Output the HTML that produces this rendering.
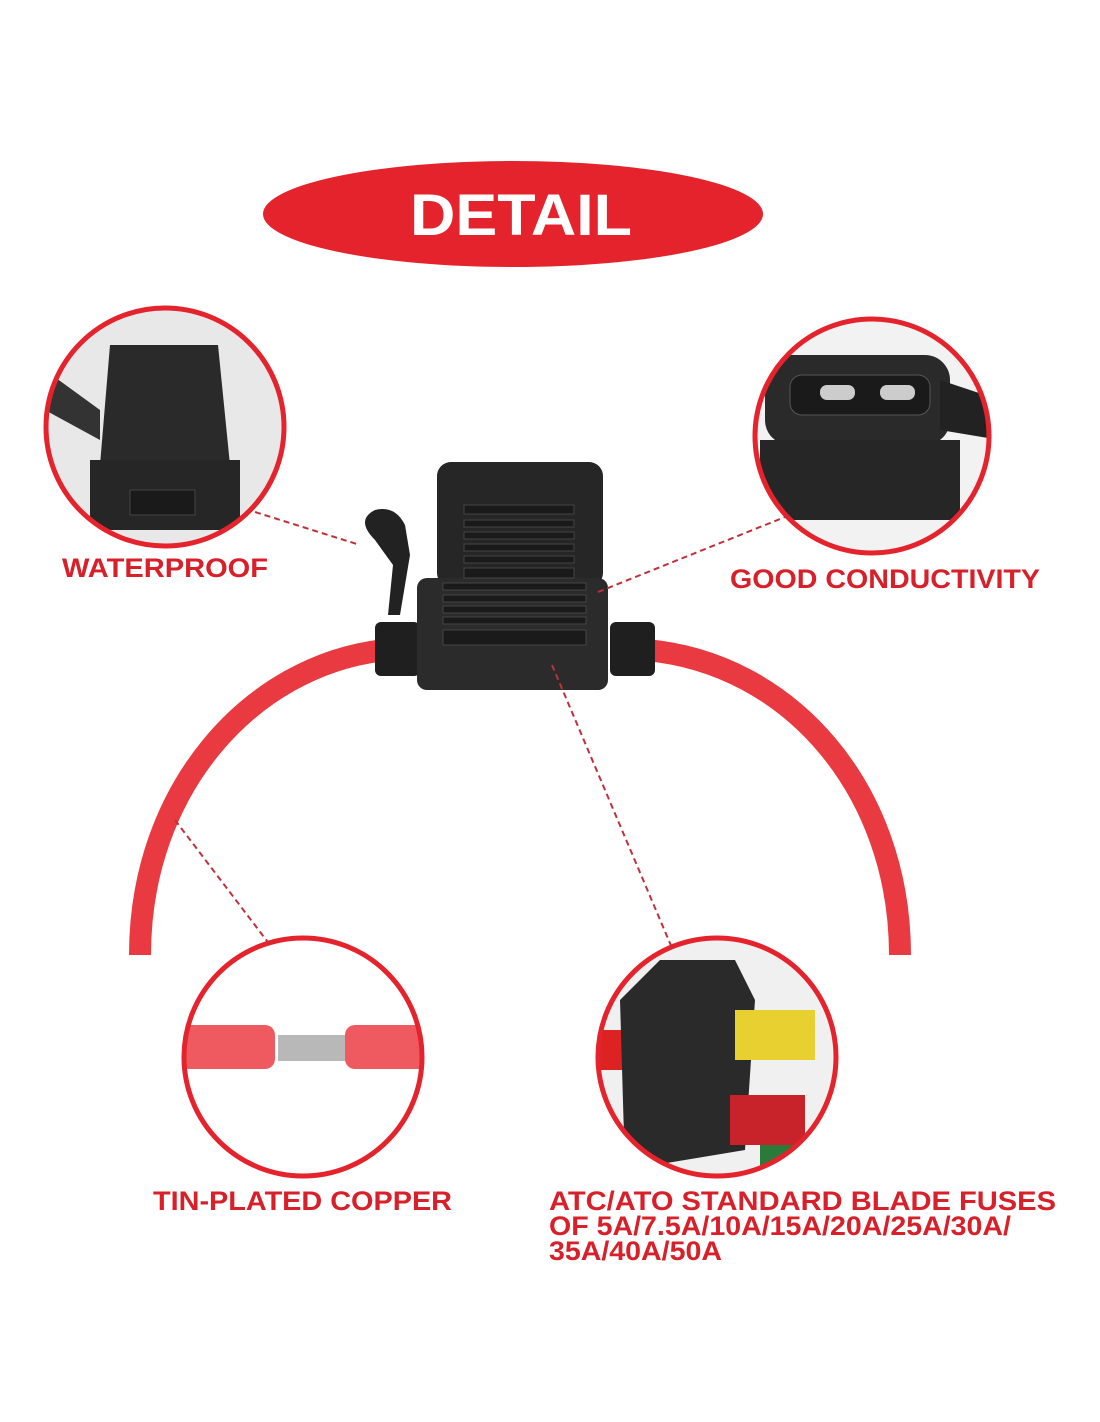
<!DOCTYPE html>
<html><head><style>
html,body{margin:0;padding:0;background:#fff;width:1100px;height:1422px;overflow:hidden}
svg{display:block}
text{font-family:"Liberation Sans",sans-serif;font-weight:bold}
</style></head><body>
<svg width="1100" height="1422" viewBox="0 0 1100 1422">
<defs>
<clipPath id="c1"><circle cx="165" cy="427" r="118"/></clipPath>
<clipPath id="c2"><circle cx="872" cy="436" r="116"/></clipPath>
<clipPath id="c3"><circle cx="303" cy="1057" r="118"/></clipPath>
<clipPath id="c4"><circle cx="717" cy="1057" r="118"/></clipPath>
</defs>
<ellipse cx="513" cy="214" rx="250" ry="53" fill="#e4232c"/>
<text x="410" y="235" font-size="58" fill="#fff" textLength="222" lengthAdjust="spacingAndGlyphs">DETAIL</text>

<!-- wire -->
<path d="M140 955 C140 790 250 665 385 650" fill="none" stroke="#e83a40" stroke-width="22"/>
<path d="M645 650 C790 662 900 790 900 955" fill="none" stroke="#e83a40" stroke-width="22"/>

<!-- fuse holder -->
<path d="M375 540 q-20 -20 0 -30 q20 -5 30 15 l5 30 l-10 60 l-12 0 l5 -50 z" fill="#222"/>
<rect x="375" y="622" width="45" height="54" rx="6" fill="#1f1f1f"/>
<rect x="610" y="622" width="45" height="54" rx="6" fill="#1f1f1f"/>
<rect x="437" y="462" width="166" height="125" rx="14" fill="#262626"/>
<rect x="417" y="578" width="191" height="112" rx="10" fill="#2b2b2b"/>
<g fill="#1a1a1a" stroke="#444" stroke-width="1">
<rect x="464" y="505" width="110" height="9"/><rect x="464" y="520" width="110" height="7"/>
<rect x="464" y="532" width="110" height="7"/><rect x="464" y="544" width="110" height="7"/>
<rect x="464" y="556" width="110" height="7"/><rect x="464" y="568" width="110" height="10"/>
<rect x="443" y="583" width="143" height="7"/><rect x="443" y="595" width="143" height="7"/>
<rect x="443" y="606" width="143" height="7"/><rect x="443" y="617" width="143" height="7"/>
<rect x="443" y="630" width="143" height="15"/>
</g>

<!-- circle 1 -->
<g clip-path="url(#c1)">
<rect x="40" y="300" width="260" height="260" fill="#e8e8e8"/>
<path d="M110 345 h108 l12 120 h-130 z" fill="#2a2a2a"/>
<rect x="90" y="460" width="150" height="70" fill="#262626"/>
<rect x="130" y="490" width="65" height="25" fill="#1a1a1a" stroke="#444"/>
<path d="M45 370 l55 40 l0 30 l-55 -30z" fill="#333"/>
</g>
<circle cx="165" cy="427" r="119" fill="none" stroke="#e4232c" stroke-width="5"/>

<!-- circle 2 -->
<g clip-path="url(#c2)">
<rect x="750" y="315" width="245" height="245" fill="#f2f2f2"/>
<rect x="765" y="355" width="185" height="90" rx="25" fill="#2a2a2a"/>
<rect x="790" y="375" width="140" height="40" rx="12" fill="#1a1a1a" stroke="#555"/>
<rect x="820" y="385" width="35" height="15" rx="7" fill="#ccc"/>
<rect x="880" y="385" width="35" height="15" rx="7" fill="#ccc"/>
<rect x="760" y="440" width="200" height="80" fill="#262626"/>
<path d="M940 380 l60 20 l0 40 l-60 -10z" fill="#222"/>
</g>
<circle cx="872" cy="436" r="117" fill="none" stroke="#e4232c" stroke-width="5"/>

<!-- circle 3 -->
<g clip-path="url(#c3)">
<rect x="180" y="935" width="250" height="250" fill="#fff"/>
<rect x="180" y="1025" width="95" height="44" rx="10" fill="#ee5a5f"/>
<rect x="278" y="1035" width="68" height="26" fill="#b8b8b8"/>
<rect x="345" y="1025" width="90" height="44" rx="10" fill="#ee5a5f"/>
</g>
<circle cx="303" cy="1057" r="119" fill="none" stroke="#e4232c" stroke-width="5"/>

<!-- circle 4 -->
<g clip-path="url(#c4)">
<rect x="595" y="935" width="250" height="250" fill="#f0f0f0"/>
<rect x="600" y="1030" width="60" height="40" fill="#d22"/>
<path d="M620 1000 l40 -40 l75 0 l20 40 l-10 150 l-120 20 z" fill="#2a2a2a"/>
<rect x="735" y="1010" width="80" height="50" fill="#e8d030"/>
<rect x="730" y="1095" width="75" height="50" fill="#c8222a"/>
<rect x="760" y="1145" width="60" height="25" fill="#2a7a3a"/>
</g>
<circle cx="717" cy="1057" r="119" fill="none" stroke="#e4232c" stroke-width="5"/>

<!-- dashed leaders -->
<g stroke="#c0303a" stroke-width="2" stroke-dasharray="6,4" fill="none">
<line x1="255" y1="512" x2="360" y2="545"/>
<line x1="598" y1="592" x2="790" y2="515"/>
<line x1="175" y1="820" x2="270" y2="945"/>
<line x1="552" y1="665" x2="672" y2="948"/>
</g>

<g fill="#d8202a" font-size="27" lengthAdjust="spacingAndGlyphs">
<text x="62" y="577" textLength="206" lengthAdjust="spacingAndGlyphs">WATERPROOF</text>
<text x="730" y="588" textLength="310" lengthAdjust="spacingAndGlyphs">GOOD CONDUCTIVITY</text>
<text x="153" y="1210" textLength="299" lengthAdjust="spacingAndGlyphs">TIN-PLATED COPPER</text>
<text x="549" y="1210" textLength="507" lengthAdjust="spacingAndGlyphs">ATC/ATO STANDARD BLADE FUSES</text>
<text x="549" y="1235" textLength="462" lengthAdjust="spacingAndGlyphs">OF 5A/7.5A/10A/15A/20A/25A/30A/</text>
<text x="549" y="1260" textLength="173" lengthAdjust="spacingAndGlyphs">35A/40A/50A</text>
</g>
</svg>
</body></html>
